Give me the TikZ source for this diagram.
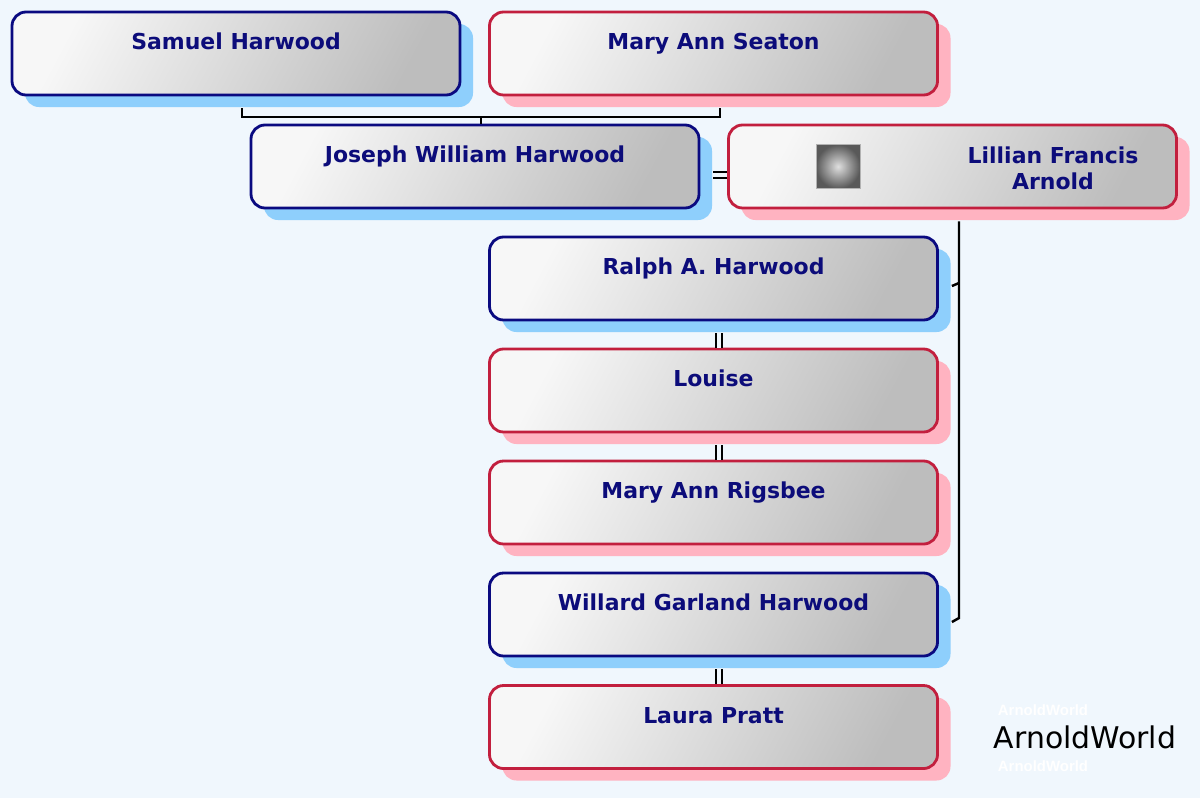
\documentclass[tikz,border=0pt]{standalone}
\usepackage{fontspec}
\setmainfont{DejaVu Sans}
\newfontfamily\markfont{Liberation Sans}
\usetikzlibrary{shadows}

\definecolor{bg}{HTML}{F0F7FD}
\definecolor{navy}{HTML}{0C0C7A}
\definecolor{manline}{HTML}{0A0A80}
\definecolor{womanline}{HTML}{C21F3E}
\definecolor{manshadow}{HTML}{8ECFFC}
\definecolor{womanshadow}{HTML}{FFB3C1}

\begin{document}
\begin{tikzpicture}[every node/.style={font=\bfseries\fontsize{12.5}{14.8}\selectfont,
              text=navy, align=center},
              person/.style={rounded corners=.28cm, line width=1.6pt,
              minimum width=8.96cm, minimum height=1.66cm, inner sep=0pt,
              text height=9pt, text depth=13pt,
              top color=gray!6, bottom color=gray!52, shading angle=62},
              man/.style={person, draw=manline,
              drop shadow={shadow xshift=.26cm, shadow yshift=-.24cm, fill=manshadow, opacity=1}},
              woman/.style={person, draw=womanline,
              drop shadow={shadow xshift=.26cm, shadow yshift=-.24cm, fill=womanshadow, opacity=1}},
              photo/.style={minimum size=.88cm, inner sep=0pt, draw=gray!60,
              inner color=gray!25, outer color=gray!70!black},
              link/.style={draw=black, line width=1.4pt},
              marriage/.style={draw=black, line width=1.1pt, double=bg, double distance=2.3pt},
              watermark/.style={font=\fontsize{17}{20}\selectfont, text=black},
              watermark small/.style={font=\markfont\bfseries\fontsize{8.5}{10}\selectfont, text=white}]
    \useasboundingbox (0,0) rectangle (24,-15.96);
    \fill[bg] (0,0) rectangle (24,-15.96);

    \node[man] (samuel) at (4.72,-1.07) {Samuel Harwood};
    \node[woman] (mary seaton) at (14.27,-1.07) {Mary Ann Seaton};
    \node[man] (joseph) at (9.5,-3.33) {Joseph William Harwood};
    \node[woman] (lillian) at (19.05,-3.33) {};
    \node[photo] (lillian photo) at (16.76,-3.33) {};
    \node (lillian name) at (21.06,-3.36) {Lillian Francis\\Arnold};
    \node[man] (ralph) at (14.27,-5.57) {Ralph A. Harwood};
    \node[woman] (louise) at (14.27,-7.81) {Louise};
    \node[woman] (rigsbee) at (14.27,-10.05) {Mary Ann Rigsbee};
    \node[man] (willard) at (14.27,-12.29) {Willard Garland Harwood};
    \node[woman] (laura) at (14.27,-14.54) {Laura Pratt};

    \coordinate (seaton kids) at (9.62,-2.34);
    \coordinate (arnold kids) at (19.18,-12.36);
    \coordinate (ralph branch) at (19.18,-5.66);

    \draw[link] ([xshift=.12cm,yshift=-.24cm]samuel.south) |- (seaton kids)
        -| ([xshift=.13cm,yshift=-.24cm]mary seaton.south);
    \draw[link] (seaton kids) -- (seaton kids |- joseph.north);
    \draw[link] ([xshift=.13cm,yshift=-.24cm]lillian.south) -- (arnold kids)
        -- ([xshift=.26cm,yshift=-.15cm]willard.east);
    \draw[link] ([xshift=.26cm,yshift=-.15cm]ralph.east) -- (ralph branch);

    \path ([xshift=.26cm,yshift=-.17cm]joseph.east) edge[marriage] ([yshift=-.17cm]lillian.west);
    \path ([xshift=.11cm,yshift=-.24cm]ralph.south) edge[marriage] ([xshift=.11cm]louise.north);
    \path ([xshift=.11cm,yshift=-.24cm]louise.south) edge[marriage] ([xshift=.11cm]rigsbee.north);
    \path ([xshift=.11cm,yshift=-.24cm]willard.south) edge[marriage] ([xshift=.11cm]laura.north);

    \node[watermark small] (brand top) at (20.86,-14.2) {ArnoldWorld};
    \node[watermark] (brand) at (21.7,-14.74) {ArnoldWorld};
    \node[watermark small] (brand bottom) at (20.86,-15.32) {ArnoldWorld};
\end{tikzpicture}
\end{document}
